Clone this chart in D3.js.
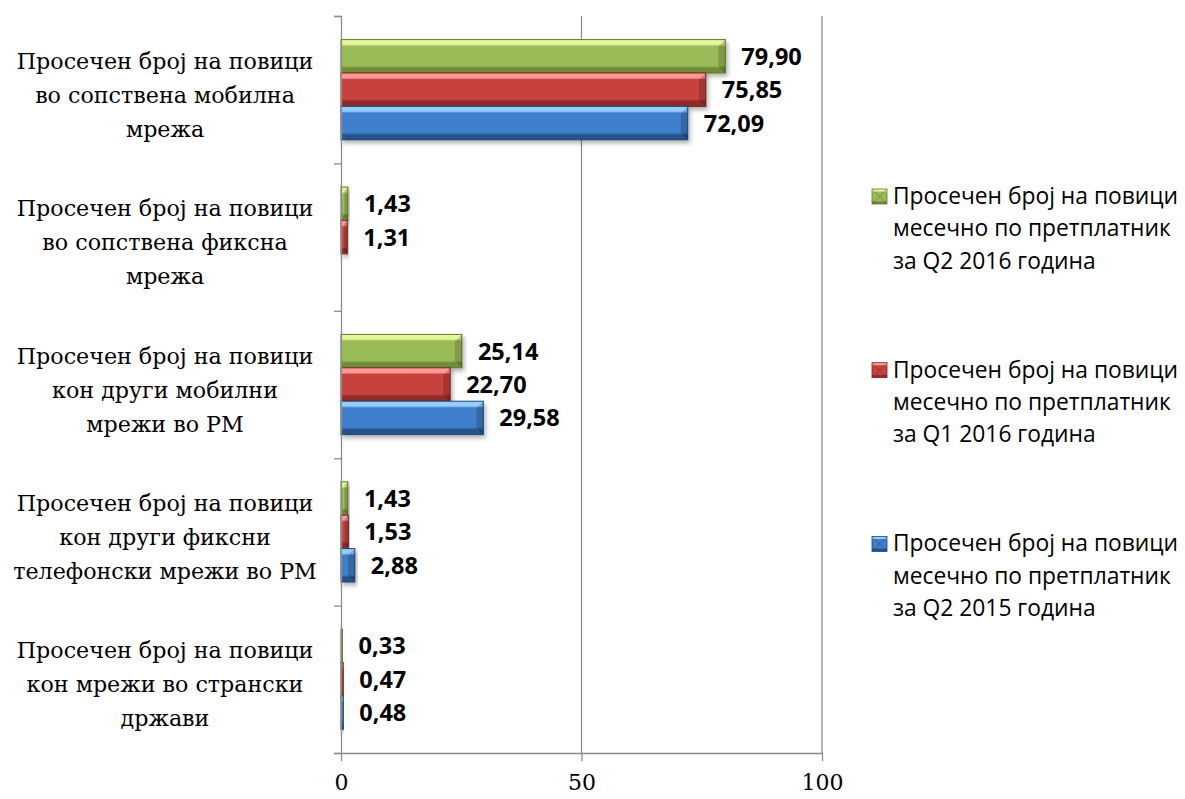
<!DOCTYPE html>
<html>
<head>
<meta charset="utf-8">
<script src="https://cdn.jsdelivr.net/npm/d3@7"></script>
<style>
  body { margin: 0; background: #fff; }
  svg { display: block; }
</style>
</head>
<body>
<div id="chart"></div>
<script>
// data
var categories = [
    "Просечен број на повици\nво сопствена мобилна\nмрежа",
    "Просечен број на повици\nво сопствена фиксна\nмрежа",
    "Просечен број на повици\nкон други мобилни\nмрежи во РМ",
    "Просечен број на повици\nкон други фиксни\nтелефонски мрежи во РМ",
    "Просечен број на повици\nкон мрежи во странски\nдржави"
];
var seriesNames = [
    "Просечен број на повици\nмесечно по претплатник\nза Q2 2016 година",
    "Просечен број на повици\nмесечно по претплатник\nза Q1 2016 година",
    "Просечен број на повици\nмесечно по претплатник\nза Q2 2015 година"
];
var q2_2016 = [79.90, 1.43, 25.14, 1.43, 0.33];
var q1_2016 = [75.85, 1.31, 22.70, 1.53, 0.47];
var q2_2015 = [72.09, null, 29.58, 2.88, 0.48];
var xTicks = [0, 50, 100];

var seriesValues = [q2_2016, q1_2016, q2_2015];
var seriesColors = [
    {light: "#e4f79a", mid: "#9bbb59", dark: "#6f8c34", edge: "#5f7a2b"},
    {light: "#ff9a96", mid: "#c8423e", dark: "#8f2a27", edge: "#7e2522"},
    {light: "#95cdff", mid: "#3f7fcc", dark: "#25528c", edge: "#1f4677"}
];

var svgWidth = 1185;
var svgHeight = 799;
var margin = {top: 16, left: 341, right: 363, bottom: 46};
var width = svgWidth - margin.left - margin.right;
var height = svgHeight - margin.top - margin.bottom;

var svg = d3.select("#chart")
    .append("svg")
    .attr("width", svgWidth)
    .attr("height", svgHeight);

var defs = svg.append("defs");

// bar gradients
seriesColors.forEach(function(c, i) {
    var g = defs.append("linearGradient")
        .attr("id", "grad" + i)
        .attr("x1", 0).attr("y1", 0).attr("x2", 0).attr("y2", 1);
    g.append("stop").attr("offset", "0%").attr("stop-color", c.light);
    g.append("stop").attr("offset", "14%").attr("stop-color", c.light);
    g.append("stop").attr("offset", "20%").attr("stop-color", c.mid);
    g.append("stop").attr("offset", "78%").attr("stop-color", c.mid);
    g.append("stop").attr("offset", "86%").attr("stop-color", c.dark);
    g.append("stop").attr("offset", "100%").attr("stop-color", c.dark);
});

var shadow = defs.append("filter")
    .attr("id", "shadow")
    .attr("x", "-10%").attr("y", "-20%")
    .attr("width", "130%").attr("height", "160%");
shadow.append("feDropShadow")
    .attr("dx", 2).attr("dy", 3)
    .attr("stdDeviation", 2)
    .attr("flood-color", "#000")
    .attr("flood-opacity", 0.3);

var chartGroup = svg.append("g")
    .attr("transform", `translate(${margin.left}, ${margin.top})`);

// scales
var xScale = d3.scaleLinear()
    .domain([0, 100])
    .range([0, width]);

var yScale = d3.scaleBand()
    .domain(d3.range(categories.length))
    .range([0, height])
    .paddingInner(0.32)
    .paddingOuter(0.16);

var ySub = d3.scaleBand()
    .domain(d3.range(seriesNames.length))
    .range([0, yScale.bandwidth()]);

// boundaries between categories (for the axis ticks)
var yEdges = d3.scaleLinear()
    .domain([0, categories.length])
    .range([0, height]);

// gridlines
chartGroup.append("g")
    .selectAll("line")
    .data(xTicks.filter(d => d > 0))
    .enter()
    .append("line")
    .attr("x1", d => xScale(d))
    .attr("x2", d => xScale(d))
    .attr("y1", 0)
    .attr("y2", height)
    .attr("stroke", "#8c8c8c")
    .attr("stroke-width", 1.3);

// bars
var barData = [];
categories.forEach(function(cat, ci) {
    seriesValues.forEach(function(vals, si) {
        if (vals[ci] != null) barData.push({ci: ci, si: si, v: vals[ci]});
    });
});

var bars = chartGroup.append("g")
    .selectAll("g")
    .data(barData)
    .enter()
    .append("g")
    .attr("transform", d => `translate(0, ${yScale(d.ci) + ySub(d.si)})`);

bars.append("rect")
    .attr("x", 0)
    .attr("y", 0)
    .attr("width", d => xScale(d.v))
    .attr("height", ySub.bandwidth())
    .attr("fill", d => `url(#grad${d.si})`)
    .attr("stroke", d => seriesColors[d.si].edge)
    .attr("stroke-width", 1)
    .attr("filter", "url(#shadow)");

// bevel at the right end of every bar
bars.append("path")
    .attr("d", function(d) {
        var x1 = xScale(d.v);
        var h = ySub.bandwidth();
        var b = Math.min(7, x1 / 2);
        return `M${x1 - b},${b} L${x1},0 L${x1},${h} L${x1 - b},${h - b} Z`;
    })
    .attr("fill", "#000")
    .attr("opacity", 0.18);

// value labels
bars.append("text")
    .attr("x", d => xScale(d.v) + 16)
    .attr("y", ySub.bandwidth() / 2)
    .attr("dy", "0.36em")
    .text(d => d3.format(".2f")(d.v).replace(".", ","))
    .style("font-family", "'Open Sans', sans-serif")
    .style("font-weight", "bold")
    .style("font-size", "23.5px")
    .style("fill", "#000");

// y axis with ticks on category boundaries
var yAxis = d3.axisLeft(yEdges)
    .ticks(categories.length)
    .tickSize(7)
    .tickFormat("");

chartGroup.append("g")
    .call(yAxis)
    .call(g => g.selectAll("path, line").attr("stroke", "#8c8c8c").attr("stroke-width", 1.3));

// x axis
var xAxis = d3.axisBottom(xScale)
    .tickValues(xTicks)
    .tickSize(8)
    .tickSizeOuter(0)
    .tickPadding(13);

chartGroup.append("g")
    .attr("transform", `translate(0, ${height})`)
    .call(xAxis)
    .call(g => g.selectAll("path, line").attr("stroke", "#8c8c8c").attr("stroke-width", 1.3))
    .call(g => g.selectAll("text")
        .style("font-family", "'DejaVu Serif', serif")
        .style("font-size", "22px")
        .style("fill", "#000"));

// category labels
var catLabels = chartGroup.append("g")
    .selectAll("text")
    .data(categories)
    .enter()
    .append("text")
    .attr("text-anchor", "middle")
    .style("font-family", "'DejaVu Serif', serif")
    .style("font-size", "22.2px")
    .style("fill", "#000");

catLabels.each(function(d, i) {
    var lines = d.split("\n");
    var cy = yScale(i) + yScale.bandwidth() / 2;
    d3.select(this).selectAll("tspan")
        .data(lines)
        .enter()
        .append("tspan")
        .attr("x", -176)
        .attr("y", (l, k) => cy + 13 + (k - 1) * 34)
        .text(l => l);
});

// legend
var legend = svg.append("g")
    .attr("transform", "translate(872, 189)");

var legendItem = legend.selectAll("g")
    .data(seriesNames)
    .enter()
    .append("g")
    .attr("transform", (d, i) => `translate(0, ${i * 173.7})`);

legendItem.append("rect")
    .attr("width", 15)
    .attr("height", 15)
    .attr("fill", (d, i) => `url(#grad${i})`)
    .attr("stroke", (d, i) => seriesColors[i].edge)
    .attr("stroke-width", 0.8);

legendItem.append("path")
    .attr("d", "M0,0 L7.5,7.5 L15,0 M0,15 L7.5,7.5 L15,15")
    .attr("stroke", "#000")
    .attr("stroke-opacity", 0.2)
    .attr("fill", "none");

legendItem.append("text")
    .style("font-family", "'Open Sans', sans-serif")
    .style("font-size", "22.8px")
    .style("fill", "#000")
    .selectAll("tspan")
    .data(d => d.split("\n"))
    .enter()
    .append("tspan")
    .attr("x", 21)
    .attr("y", (l, k) => 15 + k * 32.3)
    .text(l => l);
</script>
</body>
</html>
